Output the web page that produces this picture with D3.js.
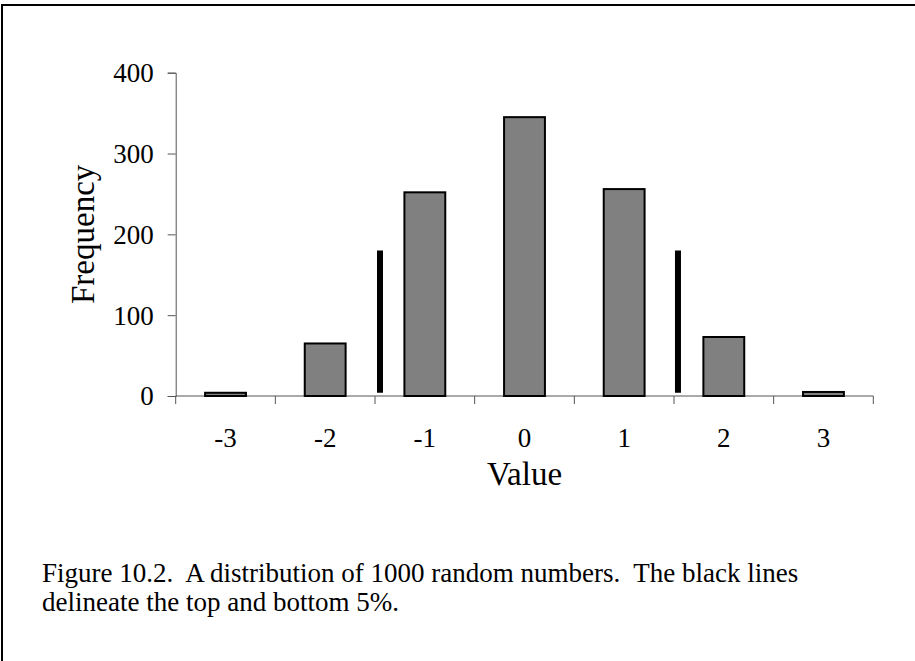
<!DOCTYPE html>
<html>
<head>
<meta charset="utf-8">
<script src="https://cdn.jsdelivr.net/npm/d3@7/dist/d3.min.js"></script>
<style>
  html, body { margin: 0; padding: 0; background: #fff; }
  svg { display: block; }
  text { font-family: "Liberation Serif", "Times New Roman", serif; fill: #000; }
</style>
</head>
<body>
<svg id="chart" width="915" height="661"></svg>
<script>
// ---- data ----
const categories = ["-3", "-2", "-1", "0", "1", "2", "3"];
const frequencies = [4, 65, 252, 345, 256, 73, 5];
const yTicks = [0, 100, 200, 300, 400];
const cutoffX = [-1.45, 1.54];      // positions of the 5% cut-off lines (value units)
const cutoffRange = [4, 180];       // vertical extent of the cut-off lines (frequency units)
const xTitle = "Value";
const yTitle = "Frequency";
const captionLines = [
  "Figure 10.2.\u00A0 A distribution of 1000 random numbers.\u00A0 The black lines",
  "delineate the top and bottom 5%."
];

// ---- layout ----
const svg = d3.select("#chart");
const plot = { left: 175.7, right: 873.3, top: 72.7, bottom: 396 };

// frame (top and left edges visible)
svg.append("path")
  .attr("d", "M2,661 L2,5 L915,5")
  .attr("fill", "none").attr("stroke", "#000").attr("stroke-width", 2);

const x = d3.scaleBand().domain(categories)
  .range([plot.left, plot.right]).paddingInner(0.59).paddingOuter(0.295);
const xLin = d3.scaleLinear().domain([-3.5, 3.5]).range([plot.left, plot.right]);
const y = d3.scaleLinear().domain([0, 400]).range([plot.bottom, plot.top]);

// y axis
const yAxis = d3.axisLeft(y).tickValues(yTicks).tickSize(8).tickPadding(14).tickFormat(d3.format("d"));
const gy = svg.append("g").attr("transform", `translate(${plot.left},0)`).call(yAxis);
gy.attr("font-family", null).attr("font-size", null);
gy.select(".domain").attr("stroke", "#555").attr("stroke-width", 1);
gy.selectAll(".tick line").attr("stroke", "#555");
gy.selectAll(".tick text").attr("font-size", 27).attr("dy", "0.33em");

// x axis (ticks at band boundaries)
const boundaries = d3.range(categories.length + 1).map(i => plot.left + i * x.step());
svg.append("line")
  .attr("x1", plot.left).attr("x2", plot.right)
  .attr("y1", plot.bottom).attr("y2", plot.bottom)
  .attr("stroke", "#555").attr("stroke-width", 1);
svg.append("g").selectAll("line").data(boundaries).join("line")
  .attr("x1", d => d).attr("x2", d => d)
  .attr("y1", plot.bottom).attr("y2", plot.bottom + 8)
  .attr("stroke", "#555");
svg.append("g").selectAll("text").data(categories).join("text")
  .attr("x", d => x(d) + x.bandwidth() / 2)
  .attr("y", 447)
  .attr("text-anchor", "middle")
  .attr("font-size", 27)
  .text(d => d);

// bars
svg.append("g").selectAll("rect").data(categories).join("rect")
  .attr("x", d => x(d))
  .attr("width", x.bandwidth())
  .attr("y", (d, i) => y(frequencies[i]))
  .attr("height", (d, i) => y(0) - y(frequencies[i]))
  .attr("fill", "#808080")
  .attr("stroke", "#000")
  .attr("stroke-width", 2);

// cut-off lines
svg.append("g").selectAll("line").data(cutoffX).join("line")
  .attr("x1", d => xLin(d)).attr("x2", d => xLin(d))
  .attr("y1", y(cutoffRange[0])).attr("y2", y(cutoffRange[1]))
  .attr("stroke", "#000").attr("stroke-width", 6);

// axis titles
svg.append("text")
  .attr("x", (plot.left + plot.right) / 2)
  .attr("y", 485)
  .attr("text-anchor", "middle")
  .attr("font-size", 33)
  .text(xTitle);
svg.append("text")
  .attr("transform", `translate(94,${(plot.top + plot.bottom) / 2}) rotate(-90)`)
  .attr("text-anchor", "middle")
  .attr("font-size", 33)
  .text(yTitle);

// caption
svg.append("g").selectAll("text").data(captionLines).join("text")
  .attr("x", 42)
  .attr("y", (d, i) => 582 + i * 29)
  .attr("font-size", 27)
  .text(d => d);
</script>
</body>
</html>
